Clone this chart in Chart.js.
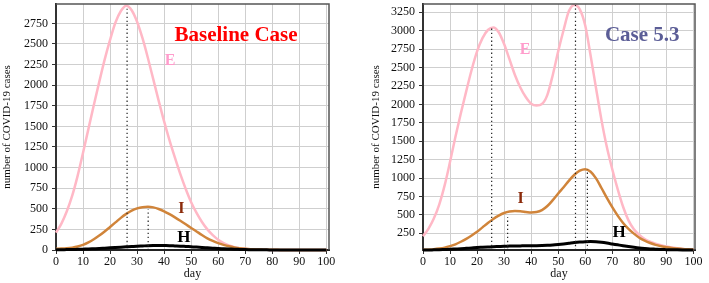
<!DOCTYPE html>
<html>
<head>
<meta charset="utf-8">
<script src="https://cdn.jsdelivr.net/npm/chart.js@4.4.1/dist/chart.umd.min.js"></script>
<style>
	body { margin: 0; background: #fff; }
	.wrap { position: absolute; top: 0; }
	#wrap-left { left: 0; }
	#wrap-right { left: 354px; }
</style>
</head>
<body>
<div class="wrap" id="wrap-left"><canvas id="chart-left" width="354" height="283"></canvas></div>
<div class="wrap" id="wrap-right"><canvas id="chart-right" width="355" height="283"></canvas></div>
<script>
// days sampled every 2 days, 0..100
const days = [
	0, 2, 4, 6, 8, 10, 12, 14, 16, 18, 20, 22, 24, 26, 28, 30, 32, 34, 36, 38, 40,
	42, 44, 46, 48, 50, 52, 54, 56, 58, 60, 62, 64, 66, 68, 70, 72, 74, 76, 78, 80,
	82, 84, 86, 88, 90, 92, 94, 96, 98, 100,
];
const dayTicks = [0, 10, 20, 30, 40, 50, 60, 70, 80, 90, 100];

// Baseline case
const eBaseline = [
	210, 320, 470, 660, 900, 1180, 1470, 1760, 2040, 2310, 2550, 2760, 2900, 2965, 2910, 2770, 2570, 2330, 2070, 1810, 1560,
	1330, 1120, 920, 740, 580, 450, 340, 250, 180, 125, 85, 55, 35, 22, 14, 9, 5, 3, 2, 1,
	0, 0, 0, 0, 0, 0, 0, 0, 0, 0,
];
const iBaseline = [
	15, 17, 21, 29, 42, 62, 92, 130, 175, 225, 280, 335, 390, 438, 478, 505, 520, 524, 517, 498, 470,
	435, 396, 355, 312, 268, 225, 182, 142, 110, 83, 62, 45, 32, 22, 15, 10, 7, 5, 3, 2,
	2, 1, 1, 1, 1, 1, 1, 1, 1, 1,
];
const hBaseline = [
	3, 4, 5, 6, 8, 10, 12, 15, 18, 22, 26, 30, 34, 38, 42, 46, 49, 52, 54, 55, 54,
	53, 50, 47, 43, 39, 35, 30, 26, 22, 18, 15, 12, 9, 7, 5, 4, 3, 2, 2, 1,
	1, 1, 1, 1, 1, 1, 1, 1, 1, 1,
];
const baselineDropDays = [26.3, 34.1];
const baselineDropTops = [2965, 490];
const baselineYTicks = [0, 250, 500, 750, 1000, 1250, 1500, 1750, 2000, 2250, 2500, 2750];

// Case 5.3
const eCase53 = [
	210, 310, 450, 640, 900, 1220, 1560, 1880, 2180, 2470, 2720, 2900, 3010, 3045, 2980, 2820, 2610, 2400, 2230, 2100, 2010,
	1985, 2005, 2130, 2400, 2720, 3010, 3270, 3350, 3290, 3070, 2660, 2220, 1790, 1420, 1120, 850, 610, 425, 305, 228,
	172, 136, 110, 88, 70, 56, 46, 38, 32, 28,
];
const iCase53 = [
	25, 28, 33, 42, 55, 75, 100, 135, 175, 220, 270, 330, 390, 445, 490, 525, 545, 552, 548, 540, 532,
	538, 565, 620, 700, 790, 875, 965, 1045, 1100, 1120, 1085, 995, 865, 730, 605, 490, 390, 310, 245, 190,
	150, 118, 92, 74, 60, 50, 43, 37, 33, 30,
];
const hCase53 = [
	22, 23, 25, 27, 30, 33, 37, 41, 46, 51, 56, 60, 64, 68, 71, 74, 76, 78, 79, 80, 80,
	81, 83, 86, 91, 98, 106, 115, 124, 131, 136, 137, 134, 127, 117, 105, 93, 81, 70, 60, 51,
	44, 38, 34, 30, 28, 26, 25, 24, 23, 23,
];
const case53DropDays = [25.4, 31.3, 56.4, 60.8];
const case53DropTops = [3045, 470, 3350, 1115];
const case53YTicks = [250, 500, 750, 1000, 1250, 1500, 1750, 2000, 2250, 2500, 2750, 3000, 3250];

const serif = "'Liberation Serif', 'Times New Roman', serif";

// top and right edges of the plot box
const plotFrame = {
	id: "plotFrame",
	afterDraw(chart) {
		let { ctx, chartArea: a } = chart;
		ctx.save();
		ctx.strokeStyle = "#555";
		ctx.lineWidth = 1.5;
		ctx.beginPath();
		ctx.moveTo(a.left, a.top);
		ctx.lineTo(a.right, a.top);
		ctx.lineTo(a.right, a.bottom);
		ctx.stroke();
		ctx.restore();
	},
};

// curve letters and case title, placed in data units
const textMarks = {
	id: "textMarks",
	afterDatasetsDraw(chart, args, opts) {
		let { ctx, scales } = chart;
		for (let m of opts.items || []) {
			ctx.save();
			ctx.font = `bold ${m.size}px ${serif}`;
			ctx.fillStyle = m.color;
			ctx.textAlign = "center";
			ctx.textBaseline = "middle";
			ctx.fillText(m.text, scales.x.getPixelForValue(m.day), scales.y.getPixelForValue(m.value));
			ctx.restore();
		}
	},
};

function toPoints(values) {
	return values.map((v, idx) => ({ x: days[idx], y: v }));
}

function buildChart(canvasId, cfg) {
	let datasets = [];

	cfg.dropDays.forEach((d, idx) => {
		datasets.push({
			data: [{ x: d, y: cfg.yMin }, { x: d, y: cfg.dropTops[idx] }],
			borderColor: "#222",
			borderWidth: 1.2,
			borderDash: [1.3, 2.7],
			pointRadius: 0,
			order: 0,
		});
	});

	datasets.push(
		{ label: "H", data: toPoints(cfg.h), borderColor: "#000", borderWidth: 3, order: 1 },
		{ label: "I", data: toPoints(cfg.i), borderColor: "#d0843a", borderWidth: 2.5, order: 2 },
		{ label: "E", data: toPoints(cfg.e), borderColor: "#ffb8c6", borderWidth: 2.5, order: 3 }
	);
	datasets.forEach((ds) => {
		ds.pointRadius = 0;
		ds.cubicInterpolationMode = "monotone";
		ds.clip = 3;
	});

	let tickFont = { family: serif, size: 12 };

	return new Chart(document.getElementById(canvasId), {
		type: "line",
		data: { datasets: datasets },
		plugins: [plotFrame, textMarks],
		options: {
			responsive: false,
			animation: false,
			layout: { padding: cfg.padding },
			scales: {
				x: {
					type: "linear",
					min: 0,
					max: cfg.xMax,
					afterBuildTicks: (axis) => {
						axis.ticks = dayTicks.map((v) => ({ value: v }));
					},
					afterFit: (axis) => {
						axis.height = 31;
						axis.paddingLeft = 0;
						axis.paddingRight = 0;
					},
					grid: { color: "#cfcfcf", lineWidth: 1, tickLength: 4, tickColor: "#333" },
					border: { color: "#222", width: 2 },
					ticks: { font: tickFont, color: "#111", padding: 1, maxRotation: 0 },
					title: {
						display: true,
						text: "day",
						font: tickFont,
						color: "#111",
						padding: { top: 0, bottom: 0 },
					},
				},
				y: {
					type: "linear",
					min: cfg.yMin,
					max: cfg.yMax,
					afterBuildTicks: (axis) => {
						axis.ticks = cfg.yTicks.map((v) => ({ value: v }));
					},
					afterFit: (axis) => {
						axis.width = cfg.yAxisWidth;
						axis.paddingTop = 0;
						axis.paddingBottom = 0;
					},
					grid: { color: "#cfcfcf", lineWidth: 1, tickLength: 4, tickColor: "#333" },
					border: { color: "#333", width: 2 },
					ticks: {
						font: tickFont,
						color: "#111",
						padding: 4,
						callback: (v) => String(v),
					},
					title: {
						display: true,
						text: "number of COVID-19 cases",
						font: { family: serif, size: 11 },
						color: "#111",
						padding: { top: 1, bottom: 0 },
					},
				},
			},
			plugins: {
				legend: { display: false },
				tooltip: { enabled: false },
				textMarks: { items: cfg.labels },
			},
		},
	});
}

buildChart("chart-left", {
	e: eBaseline,
	i: iBaseline,
	h: hBaseline,
	dropDays: baselineDropDays,
	dropTops: baselineDropTops,
	yTicks: baselineYTicks,
	yMin: 0,
	yMax: 2985,
	xMax: 101,
	yAxisWidth: 56,
	padding: { left: 0, right: 25, top: 4, bottom: 2 },
	labels: [
		{ text: "Baseline Case", day: 66.6, value: 2600, size: 21, color: "#ff0000" },
		{ text: "E", day: 42.2, value: 2300, size: 16, color: "#ff9ccc" },
		{ text: "I", day: 46.4, value: 495, size: 16, color: "#8b2a0a" },
		{ text: "H", day: 47.3, value: 150, size: 17, color: "#000" },
	],
});

buildChart("chart-right", {
	e: eCase53,
	i: iCase53,
	h: hCase53,
	dropDays: case53DropDays,
	dropTops: case53DropTops,
	yTicks: case53YTicks,
	yMin: 23,
	yMax: 3363,
	xMax: 100.6,
	yAxisWidth: 54,
	padding: { left: 15, right: 14, top: 4, bottom: 2 },
	labels: [
		{ text: "Case 5.3", day: 81.1, value: 2935, size: 21, color: "#5b5d96" },
		{ text: "E", day: 37.8, value: 2735, size: 16, color: "#ff9ccc" },
		{ text: "I", day: 36.1, value: 715, size: 16, color: "#8b2a0a" },
		{ text: "H", day: 72.5, value: 265, size: 17, color: "#000" },
	],
});
</script>
</body>
</html>
